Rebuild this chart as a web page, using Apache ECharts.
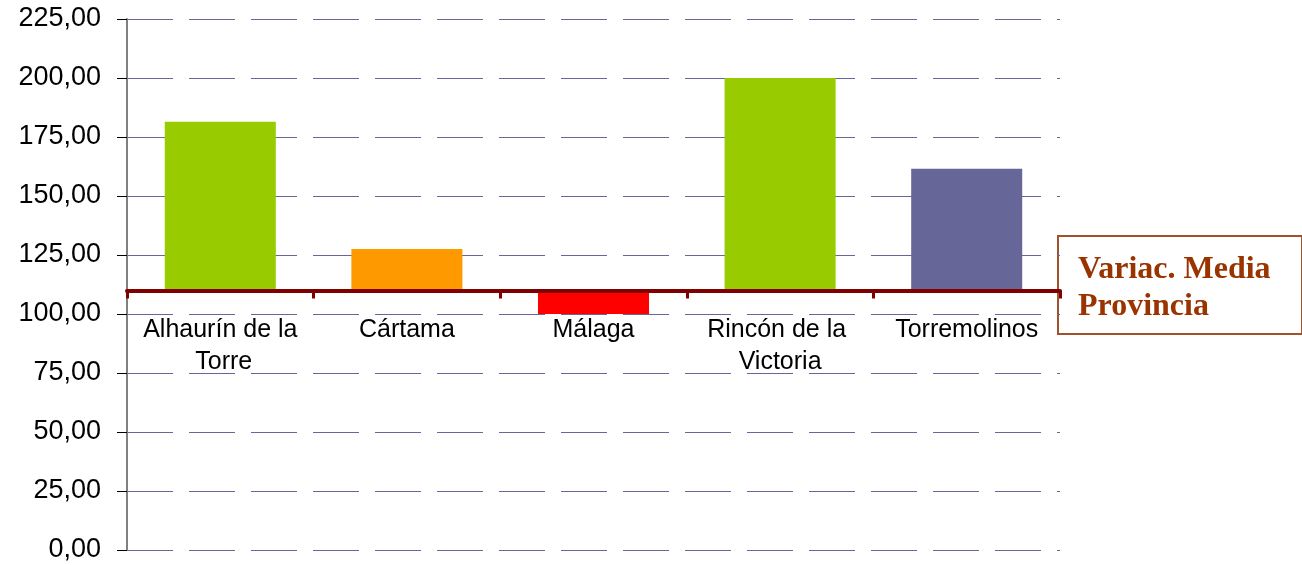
<!DOCTYPE html>
<html>
<head>
<meta charset="utf-8">
<script src="https://cdn.jsdelivr.net/npm/echarts@6/dist/echarts.min.js"></script>
<style>
html,body{margin:0;padding:0;background:#fff;}
#c{width:1302px;height:565px;}
</style>
</head>
<body>
<div id="c"></div>
<script>
const categories = ['Alhaurín de la Torre', 'Cártama', 'Málaga', 'Rincón de la Victoria', 'Torremolinos'];
const values = [181.5, 127.5, 100, 200, 161.5];
const barColors = ['#99CC00', '#FF9900', '#FF0000', '#99CC00', '#666699'];
const provinceAverage = 110;
const provinceLabel = 'Variac. Media\nProvincia';
const yMin = 0, yMax = 225, yStep = 25;

const gridTop = 19, gridBottom = 15, chartH = 565;
const gridH = chartH - gridTop - gridBottom;
const axisOffset = -gridH * (provinceAverage - yMin) / (yMax - yMin);

const baseData = values.map(v => ({ value: Math.min(v, provinceAverage), itemStyle: { color: 'transparent' } }));
const barData = values.map((v, i) => ({ value: Math.abs(v - provinceAverage), itemStyle: { color: barColors[i] } }));

const chart = echarts.init(document.getElementById('c'));
chart.setOption({
  animation: false,
  backgroundColor: '#fff',
  grid: { left: 127, right: 242, top: gridTop, bottom: gridBottom, containLabel: false },
  xAxis: {
    type: 'category',
    data: categories,
    offset: axisOffset,
    z: 5,
    boundaryGap: true,
    axisLine: { show: true, lineStyle: { color: '#800000', width: 4 } },
    axisTick: { show: true, length: 8, lineStyle: { color: '#800000', width: 3 } },
    axisLabel: {
      interval: 0, color: '#000', fontSize: 25, fontFamily: 'Liberation Sans, Arial, sans-serif',
      lineHeight: 32, margin: 24, width: 175, overflow: 'break'
    },
    splitLine: { show: false }
  },
  yAxis: {
    type: 'value',
    min: yMin, max: yMax, interval: yStep,
    axisLine: { show: true, lineStyle: { color: '#808080', width: 2 } },
    axisTick: { show: true, length: 10, lineStyle: { color: '#000', width: 1 } },
    axisLabel: {
      color: '#000', fontSize: 27, fontFamily: 'Liberation Sans, Arial, sans-serif', margin: 26,
      padding: [4, 0, 0, 0],
      formatter: v => v.toFixed(2).replace('.', ',')
    },
    splitLine: { show: true, lineStyle: { color: '#666699', width: 1, type: [46, 16] } }
  },
  series: [
    { type: 'bar', stack: 'v', data: baseData, barWidth: '59.5%', silent: true, z: 2 },
    { type: 'bar', stack: 'v', data: barData, barWidth: '59.5%', z: 2 }
  ],
  graphic: [
    {
      type: 'rect', left: 1057, top: 235,
      shape: { width: 244, height: 98 },
      style: { fill: '#fff', stroke: '#A0522D', lineWidth: 2 }
    },
    {
      type: 'text', left: 1078, top: 251,
      style: {
        text: provinceLabel, fill: '#993300',
        font: 'bold 32px "Liberation Serif", "Times New Roman", serif',
        lineHeight: 37
      }
    }
  ]
});
</script>
</body>
</html>
